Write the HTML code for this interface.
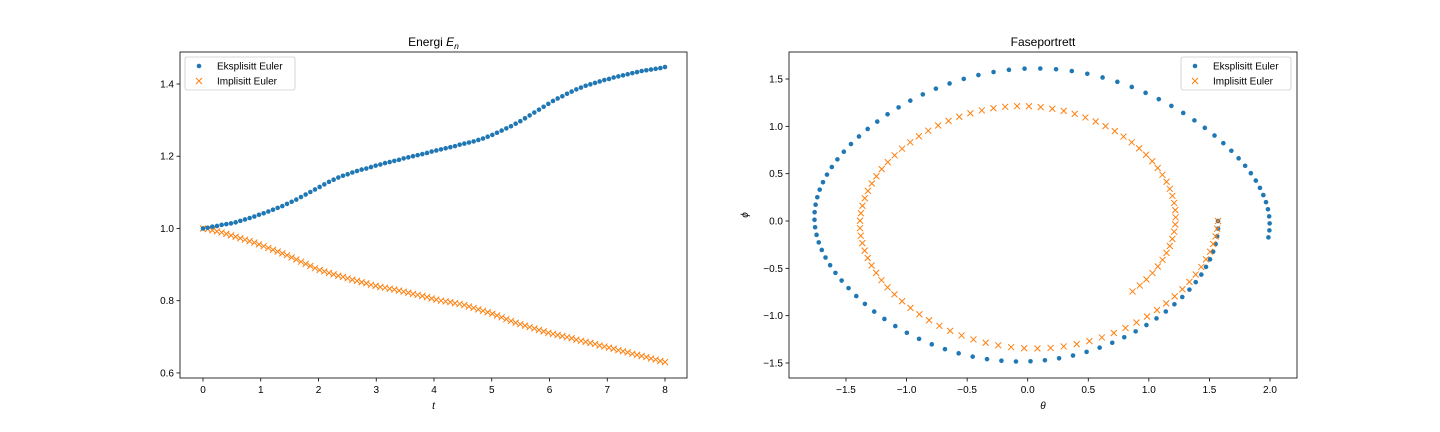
<!DOCTYPE html>
<html><head><meta charset="utf-8">
<style>
html,body{margin:0;padding:0;background:#fff;}
svg{display:block;font-family:"Liberation Sans","DejaVu Sans",sans-serif;}
</style></head>
<body>
<svg id="fig" width="1440" height="432" xmlns="http://www.w3.org/2000/svg"></svg>
<script>
// ---- Energy chart data ----
const tStart = 0, tEnd = 8, nPts = 100;
const energyExplicit = [1.000,1.002,1.005,1.007,1.010,1.012,1.014,
1.017,1.021,1.025,1.029,1.033,1.038,
1.042,1.047,1.052,1.057,1.062,1.068,
1.074,1.080,1.087,1.094,1.101,1.108,
1.115,1.122,1.129,1.135,1.141,1.146,1.150,
1.155,1.159,1.163,1.166,1.170,1.174,
1.177,1.181,1.184,1.187,1.190,1.194,
1.197,1.200,1.203,1.206,1.209,1.213,
1.216,1.219,1.222,1.225,1.228,1.232,
1.235,1.238,1.241,1.245,1.249,1.254,1.259,
1.265,1.271,1.277,1.283,1.290,1.297,
1.305,1.313,1.321,1.329,1.337,1.345,
1.353,1.360,1.366,1.373,1.379,1.385,
1.390,1.395,1.399,1.403,1.407,1.411,
1.414,1.418,1.421,1.424,1.427,1.430,
1.433,1.436,1.438,1.440,1.442,1.444,1.447];
const energyImplicit = [1.000,.998,.995,.992,.989,.985,.981,
.977,.973,.969,.965,.961,.956,
.951,.946,.941,.936,.931,.926,
.920,.914,.908,.902,.896,.890,
.885,.881,.877,.873,.869,.866,.862,
.858,.855,.851,.848,.844,.841,
.838,.836,.833,.831,.828,.825,
.822,.819,.816,.813,.810,.806,
.803,.800,.798,.796,.793,.791,
.788,.784,.780,.776,.772,.768,.764,
.759,.754,.749,.744,.739,.735,
.731,.727,.723,.719,.715,.711,
.708,.705,.702,.699,.696,.692,
.689,.686,.683,.680,.676,.673,
.670,.667,.663,.660,.657,.653,
.650,.647,.644,.640,.637,.633,.630];
const energyXTicks = [0,1,2,3,4,5,6,7,8];
const energyYTicks = [0.6,0.8,1.0,1.2,1.4];

// ---- Phase portrait data ----
const thetaExplicit = [1.571,1.571,1.564,1.551,1.531,1.505,1.472,1.433,1.387,1.335,
1.276,1.211,1.140,1.063,0.980,0.891,0.797,0.698,0.594,0.486,
0.374,0.259,0.142,0.023,-0.097,-0.217,-0.336,-0.454,-0.570,-0.683,
-0.792,-0.897,-0.998,-1.093,-1.183,-1.267,-1.344,-1.415,-1.479,-1.536,
-1.587,-1.631,-1.669,-1.700,-1.725,-1.743,-1.755,-1.760,-1.759,-1.751,
-1.737,-1.717,-1.690,-1.657,-1.617,-1.571,-1.518,-1.459,-1.393,-1.321,
-1.242,-1.157,-1.066,-0.969,-0.866,-0.758,-0.645,-0.528,-0.407,-0.282,
-0.155,-0.026,0.104,0.234,0.364,0.492,0.618,0.740,0.859,0.973,
1.082,1.186,1.284,1.376,1.462,1.542,1.615,1.681,1.741,1.795,
1.842,1.883,1.917,1.945,1.967,1.983,1.993,1.997,1.995,1.987];
const phiExplicit = [0,-0.081,-0.162,-0.243,-0.324,-0.405,-0.485,-0.566,-0.646,-0.725,
-0.803,-0.880,-0.956,-1.029,-1.099,-1.166,-1.228,-1.286,-1.338,-1.383,
-1.421,-1.450,-1.471,-1.482,-1.484,-1.476,-1.459,-1.433,-1.398,-1.354,
-1.303,-1.245,-1.181,-1.110,-1.035,-0.957,-0.876,-0.793,-0.709,-0.629,
-0.548,-0.467,-0.386,-0.306,-0.226,-0.146,-0.066,0.013,0.093,0.172,
0.251,0.331,0.410,0.490,0.570,0.651,0.732,0.813,0.893,0.972,
1.050,1.127,1.200,1.271,1.337,1.398,1.453,1.501,1.542,1.574,
1.597,1.609,1.611,1.603,1.584,1.555,1.516,1.470,1.416,1.354,
1.287,1.216,1.141,1.063,0.984,0.903,0.822,0.742,0.662,0.583,
0.505,0.427,0.350,0.274,0.199,0.124,0.049,-0.025,-0.099,-0.173];
const thetaImplicit = [1.571,1.564,1.551,1.531,1.505,1.472,1.433,1.387,1.335,1.277,
1.213,1.143,1.067,0.985,0.898,0.807,0.711,0.612,0.509,0.404,
0.297,0.189,0.080,-0.029,-0.137,-0.243,-0.347,-0.448,-0.546,-0.640,
-0.729,-0.814,-0.894,-0.968,-1.037,-1.100,-1.157,-1.207,-1.251,-1.289,
-1.321,-1.346,-1.365,-1.378,-1.384,-1.384,-1.377,-1.364,-1.345,-1.319,
-1.287,-1.249,-1.205,-1.155,-1.099,-1.037,-0.970,-0.898,-0.821,-0.739,
-0.654,-0.565,-0.473,-0.379,-0.283,-0.186,-0.088,0.010,0.107,0.203,
0.297,0.388,0.476,0.561,0.642,0.719,0.791,0.858,0.920,0.977,
1.028,1.073,1.112,1.146,1.173,1.194,1.209,1.218,1.221,1.218,
1.209,1.194,1.173,1.146,1.113,1.074,1.030,0.980,0.925,0.865];
const phiImplicit = [0,-0.081,-0.162,-0.243,-0.324,-0.405,-0.485,-0.565,-0.643,-0.721,
-0.796,-0.870,-0.941,-1.009,-1.072,-1.130,-1.183,-1.230,-1.269,-1.301,
-1.325,-1.341,-1.347,-1.344,-1.333,-1.313,-1.286,-1.251,-1.209,-1.161,
-1.107,-1.048,-0.985,-0.918,-0.848,-0.775,-0.701,-0.625,-0.548,-0.470,
-0.391,-0.313,-0.234,-0.155,-0.076,0.003,0.082,0.161,0.240,0.318,
0.396,0.473,0.548,0.622,0.694,0.764,0.831,0.895,0.954,1.009,
1.058,1.101,1.138,1.168,1.191,1.206,1.213,1.212,1.203,1.186,
1.163,1.132,1.094,1.051,1.002,0.949,0.892,0.831,0.767,0.700,
0.631,0.560,0.488,0.415,0.340,0.266,0.191,0.115,0.039,-0.037,
-0.113,-0.189,-0.264,-0.337,-0.410,-0.481,-0.550,-0.617,-0.682,-0.744];
const phaseXTicks = [-1.5,-1.0,-0.5,0.0,0.5,1.0,1.5,2.0];
const phaseYTicks = [-1.5,-1.0,-0.5,0.0,0.5,1.0,1.5];

const NS = "http://www.w3.org/2000/svg";
const svg = document.getElementById('fig');
const BLUE = "#1f77b4", ORANGE = "#ff7f0e";

function mk(tag, attrs, parent){
  const e = document.createElementNS(NS, tag);
  for (const k in attrs) e.setAttribute(k, attrs[k]);
  (parent || svg).appendChild(e);
  return e;
}
function fmt(v, d){ return v.toFixed(d).replace('-', '\u2212'); }

function makeAxes(name, box, xr, yr){
  const g = mk('g', {});
  
  
  const sx = v => box.x0 + (v - xr[0]) / (xr[1] - xr[0]) * (box.x1 - box.x0);
  const sy = v => box.y1 - (v - yr[0]) / (yr[1] - yr[0]) * (box.y1 - box.y0);
  return {g, sx, sy, box};
}

function drawFrame(ax, xTicks, yTicks, xDec, yDec, prefix){
  const {g, sx, sy, box} = ax;
  const frame = mk('rect', {x: box.x0, y: box.y0, width: box.x1 - box.x0, height: box.y1 - box.y0, fill: 'none', stroke: '#000', 'stroke-width': 0.8}, g);
  
  
  xTicks.forEach(v => {
    const x = sx(v);
    const tk = mk('line', {x1: x, x2: x, y1: box.y1, y2: box.y1 + 3.5, stroke: '#000', 'stroke-width': 0.8}, g);
    
    
    const t = mk('text', {x: x, y: box.y1 + 15, 'font-size': 10, 'text-anchor': 'middle', fill: '#000'}, g);
    t.textContent = fmt(v, xDec);
    
    
  });
  yTicks.forEach(v => {
    const y = sy(v);
    const tk = mk('line', {x1: box.x0 - 3.5, x2: box.x0, y1: y, y2: y, stroke: '#000', 'stroke-width': 0.8}, g);
    
    
    const t = mk('text', {x: box.x0 - 6, y: y + 3.5, 'font-size': 10, 'text-anchor': 'end', fill: '#000'}, g);
    t.textContent = fmt(v, yDec);
    
    
  });
}

function dots(ax, xs, ys, name){
  const gg = mk('g', {fill: BLUE}, ax.g);
  
  
  for (let i = 0; i < xs.length; i++){
    const c = mk('circle', {cx: ax.sx(xs[i]), cy: ax.sy(ys[i]), r: 2.3}, gg);
    
    
  }
}
function crosses(ax, xs, ys, name){
  const gg = mk('g', {stroke: ORANGE, 'stroke-width': 1, fill: 'none'}, ax.g);
  
  
  for (let i = 0; i < xs.length; i++){
    const x = ax.sx(xs[i]), y = ax.sy(ys[i]), s = 3;
    const p = mk('path', {d: `M${x-s},${y-s}L${x+s},${y+s}M${x-s},${y+s}L${x+s},${y-s}`}, gg);
    
    
  }
}
function legend(ax, x0, prefix){
  const y0 = ax.box.y0 + 5;
  const lg = mk('g', {}, ax.g);
  
  
  mk('rect', {x: x0, y: y0, width: 110, height: 33, rx: 2, fill: '#fff', 'fill-opacity': 0.8, stroke: '#ccc', 'stroke-width': 0.8}, lg);
  const e1 = mk('g', {}, lg);
  
  
  mk('circle', {cx: x0 + 14, cy: y0 + 9, r: 2.3, fill: BLUE}, e1);
  const t1 = mk('text', {x: x0 + 32, y: y0 + 12.5, 'font-size': 10, fill: '#000'}, e1);
  t1.textContent = 'Eksplisitt Euler';
  const e2 = mk('g', {}, lg);
  
  
  const cx = x0 + 14, cy = y0 + 24, s = 3;
  mk('path', {d: `M${cx-s},${cy-s}L${cx+s},${cy+s}M${cx-s},${cy+s}L${cx+s},${cy-s}`, stroke: ORANGE, 'stroke-width': 1}, e2);
  const t2 = mk('text', {x: x0 + 32, y: y0 + 27.5, 'font-size': 10, fill: '#000'}, e2);
  t2.textContent = 'Implisitt Euler';
}

// ---- Left: energy ----
const axE = makeAxes('energy-chart', {x0: 180, x1: 687, y0: 52, y1: 378}, [-0.398, 8.381], [0.586, 1.4886]);
drawFrame(axE, energyXTicks, energyYTicks, 0, 1, 'energy');
const tVals = energyExplicit.map((_, i) => tStart + i * (tEnd - tStart) / (nPts - 1));
crosses(axE, tVals, energyImplicit, 'energy-implicit-series');
dots(axE, tVals, energyExplicit, 'energy-explicit-series');
legend(axE, 185, 'energy');
{
  const t = mk('text', {x: 433.5, y: 46, 'font-size': 12, 'text-anchor': 'middle', fill: '#000'}, axE.g);
  t.innerHTML = 'Energi <tspan font-style="italic">E</tspan><tspan font-style="italic" font-size="8.5" dy="3">n</tspan>';
  
  
  const xl = mk('text', {x: 433.5, y: 409, 'font-size': 10, 'font-style': 'italic', 'text-anchor': 'middle', fill: '#000'}, axE.g);
  xl.textContent = 't';
  
  
}

// ---- Right: phase portrait ----
const axP = makeAxes('phase-chart', {x0: 789, x1: 1297, y0: 52, y1: 378}, [-1.9705, 2.2229], [-1.6584, 1.7852]);
drawFrame(axP, phaseXTicks, phaseYTicks, 1, 1, 'phase');
dots(axP, thetaExplicit, phiExplicit, 'phase-explicit-series');
crosses(axP, thetaImplicit, phiImplicit, 'phase-implicit-series');
legend(axP, 1181, 'phase');
{
  const t = mk('text', {x: 1043, y: 46, 'font-size': 12, 'text-anchor': 'middle', fill: '#000'}, axP.g);
  t.textContent = 'Faseportrett';
  
  
  const xl = mk('text', {x: 1043, y: 409, 'font-size': 10, 'font-style': 'italic', 'text-anchor': 'middle', fill: '#000'}, axP.g);
  xl.textContent = 'θ';
  
  
  const yl = mk('text', {x: 748, y: 215, 'font-size': 10, 'font-style': 'italic', 'text-anchor': 'middle', fill: '#000', transform: 'rotate(-90 748 215)'}, axP.g);
  yl.textContent = 'ϕ';
  
  
}
</script>
</body></html>
